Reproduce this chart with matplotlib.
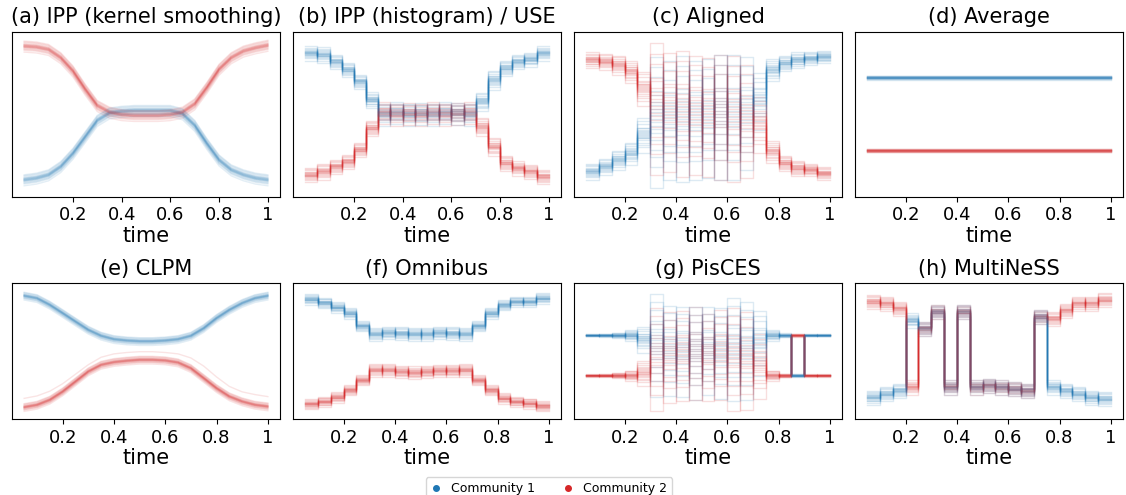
import numpy as np
import matplotlib.pyplot as plt
from matplotlib.lines import Line2D

BLUE = '#1f77b4'
RED = '#d62728'

# time grids
t_a = np.linspace(0, 1, 21)       # panels (a), (b): 0 .. 1
t_c = np.linspace(0.05, 1, 20)    # panels (c)-(h): 0.05 .. 1

# per-node deviations, as a fraction of a panel's spread
node_dev = [0.0, -0.15, 0.1, 0.25, -0.3, 0.05, -0.05, 0.4, -0.45, 0.2,
            -0.2, 0.6, -0.7, 0.15, -0.1, 0.9, -1.0, 0.35, -0.55, 0.75]

# (a) IPP kernel smoothing, values at t_a
a_c1 = [0.10, 0.11, 0.13, 0.18, 0.26, 0.36, 0.46, 0.505, 0.515, 0.52, 0.52,
        0.52, 0.52, 0.50, 0.43, 0.32, 0.22, 0.16, 0.13, 0.11, 0.10]
a_c2 = [0.91, 0.905, 0.89, 0.84, 0.76, 0.65, 0.55, 0.51, 0.495, 0.49, 0.49,
        0.49, 0.495, 0.51, 0.56, 0.66, 0.77, 0.84, 0.88, 0.90, 0.915]

# (b) IPP histogram, one value per bin of t_a
b_c1 = [0.869, 0.859, 0.818, 0.768, 0.697, 0.586,
        0.50, 0.51, 0.50, 0.505, 0.50, 0.51, 0.505, 0.50,
        0.576, 0.707, 0.778, 0.818, 0.832, 0.869]
b_c2 = [0.131, 0.152, 0.182, 0.212, 0.283, 0.414,
        0.51, 0.50, 0.505, 0.50, 0.51, 0.50, 0.505, 0.51,
        0.424, 0.303, 0.202, 0.172, 0.152, 0.121]
b_spread = [0.045, 0.05, 0.045, 0.045, 0.045, 0.05,
            0.07, 0.07, 0.07, 0.07, 0.07, 0.07, 0.07, 0.07,
            0.06, 0.06, 0.05, 0.045, 0.045, 0.045]

# (c) Aligned, one value per bin of t_c
c_c1 = [0.152, 0.182, 0.222, 0.263, 0.374,
        0.47, 0.48, 0.49, 0.48, 0.49, 0.50, 0.50, 0.52,
        0.586, 0.768, 0.808, 0.828, 0.838, 0.848]
c_c2 = [0.828, 0.818, 0.798, 0.758, 0.657,
        0.55, 0.53, 0.52, 0.51, 0.50, 0.50, 0.49, 0.47,
        0.444, 0.273, 0.202, 0.172, 0.162, 0.141]
c_spread = [0.05, 0.05, 0.06, 0.07, 0.11,
            0.42, 0.38, 0.40, 0.38, 0.38, 0.40, 0.40, 0.36,
            0.18, 0.07, 0.05, 0.05, 0.04, 0.04]

# (d) Average, constant levels
d_c1 = 0.721
d_c2 = 0.279

# (e) CLPM, values at t_c
e_c1 = [0.907, 0.889, 0.84, 0.779, 0.717, 0.656, 0.612, 0.587, 0.577, 0.572,
        0.572, 0.577, 0.587, 0.612, 0.668, 0.742, 0.803, 0.853, 0.889, 0.907]
e_c2 = [0.086, 0.103, 0.14, 0.201, 0.275, 0.349, 0.398, 0.418, 0.428, 0.435,
        0.435, 0.43, 0.415, 0.373, 0.30, 0.226, 0.165, 0.128, 0.103, 0.091]
e_c2_stray = [0.152, 0.17, 0.205, 0.26, 0.33, 0.40, 0.455, 0.48, 0.49, 0.496,
              0.496, 0.49, 0.48, 0.45, 0.39, 0.31, 0.24, 0.2, 0.18, 0.165]

# (f) Omnibus, one value per bin of t_c
f_c1 = [0.882, 0.857, 0.823, 0.779, 0.686,
        0.627, 0.636, 0.631, 0.627, 0.627, 0.636, 0.631, 0.627,
        0.686, 0.779, 0.84, 0.865, 0.865, 0.889]
f_c2 = [0.111, 0.128, 0.16, 0.214, 0.287,
        0.361, 0.361, 0.349, 0.342, 0.349, 0.356, 0.356, 0.361,
        0.287, 0.214, 0.152, 0.128, 0.115, 0.096]
f_spread = [0.04] * 5 + [0.05] * 8 + [0.04] * 6

# (g) PisCES, one value per bin of t_c
g_c1 = [0.617, 0.617, 0.617, 0.617, 0.59,
        0.56, 0.52, 0.51, 0.50, 0.52, 0.50, 0.53, 0.52,
        0.57, 0.617, 0.617, 0.321, 0.617, 0.617]
g_c2 = [0.321, 0.321, 0.321, 0.321, 0.34,
        0.46, 0.47, 0.48, 0.50, 0.47, 0.49, 0.46, 0.45,
        0.40, 0.321, 0.321, 0.617, 0.321, 0.321]
g_spread = [0.008, 0.01, 0.02, 0.04, 0.1,
            0.40, 0.35, 0.35, 0.36, 0.34, 0.35, 0.40, 0.38,
            0.25, 0.04, 0.015, 0.01, 0.008, 0.008]

# (h) MultiNeSS, one value per bin of t_c
h_c1 = [0.16, 0.185, 0.21, 0.728, 0.667, 0.79, 0.235, 0.79, 0.235, 0.247,
        0.235, 0.222, 0.21, 0.753, 0.235, 0.21, 0.185, 0.16, 0.148]
h_c2 = [0.864, 0.852, 0.815, 0.235, 0.667, 0.79, 0.235, 0.79, 0.235, 0.247,
        0.235, 0.222, 0.21, 0.753, 0.74, 0.80, 0.852, 0.852, 0.877]
h_spread = [0.055] * 19

titles = ['(a) IPP (kernel smoothing)', '(b) IPP (histogram) / USE',
          '(c) Aligned', '(d) Average', '(e) CLPM', '(f) Omnibus',
          '(g) PisCES', '(h) MultiNeSS']


def node_curve(center, spread, k, steps):
    # one node's trajectory: center plus its deviation (per bin for steps)
    n = len(node_dev)
    if not steps:
        return np.asarray(center) + spread * node_dev[k % n]
    y = [center[j] + spread[j] * node_dev[(k + 7 * j) % n]
         for j in range(len(center))]
    y.append(y[-1])
    return y


def plot_panel(ax, t, c1, c2, spread, steps, alpha=0.15):
    # draw the two communities interleaved, node by node
    ds = 'steps-post' if steps else 'default'
    for k in range(len(node_dev)):
        ax.plot(t, node_curve(c1, spread, k, steps), drawstyle=ds,
                color=BLUE, alpha=alpha, lw=1)
        ax.plot(t, node_curve(c2, spread, k + 3, steps), drawstyle=ds,
                color=RED, alpha=alpha, lw=1)


fig = plt.figure(figsize=(11.26, 4.95), dpi=100)
lefts = [12, 293, 574, 855]
axes = []
for row in range(2):
    for col in range(4):
        if row == 0:
            rect = [lefts[col] / 1126, 1 - 196.5 / 495, 268 / 1126, 165 / 495]
        else:
            rect = [lefts[col] / 1126, 1 - 419 / 495, 268 / 1126, 135.7 / 495]
        axes.append(fig.add_axes(rect))

plot_panel(axes[0], t_a, a_c1, a_c2, 0.035, False, alpha=0.12)
plot_panel(axes[1], t_a, b_c1, b_c2, b_spread, True)
plot_panel(axes[2], t_c, c_c1, c_c2, c_spread, True)
plot_panel(axes[3], t_c, np.full(len(t_c), d_c1), np.full(len(t_c), d_c2),
           0.012, False)
plot_panel(axes[4], t_c, e_c1, e_c2, 0.03, False, alpha=0.12)
axes[4].plot(t_c, e_c2_stray, color=RED, alpha=0.12, lw=1)
plot_panel(axes[5], t_c, f_c1, f_c2, f_spread, True)
plot_panel(axes[6], t_c, g_c1, g_c2, g_spread, True)
plot_panel(axes[7], t_c, h_c1, h_c2, h_spread, True)

for ax, title in zip(axes, titles):
    ax.set_title(title, fontsize=15)
    ax.set_ylim(0, 1)
    ax.set_yticks([])
    ax.set_xticks([0.2, 0.4, 0.6, 0.8, 1.0])
    ax.set_xticklabels(['0.2', '0.4', '0.6', '0.8', '1'])
    ax.tick_params(axis='x', labelsize=13)
    ax.set_xlabel('time', fontsize=15, labelpad=1)

handles = [Line2D([], [], marker='o', ls='none', color=BLUE, markersize=4),
           Line2D([], [], marker='o', ls='none', color=RED, markersize=4)]
fig.legend(handles, ['Community 1', 'Community 2'], loc='upper center',
           bbox_to_anchor=(0.4876, 1 - 471 / 495), ncol=2, fontsize=9,
           handlelength=0.8, columnspacing=2.3)

fig.savefig('out.png', dpi=100)
